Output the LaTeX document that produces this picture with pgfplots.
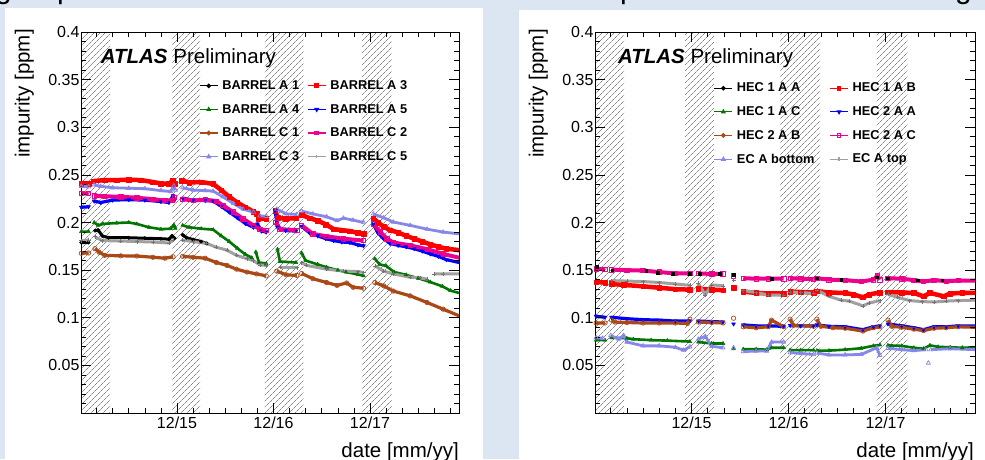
\documentclass[border=0pt]{standalone}
\usepackage{fontspec}
\setmainfont{Liberation Sans}
\usepackage{pgfplots}
\pgfplotsset{compat=1.18}
\usepackage{pgfplotstable}
\usetikzlibrary{patterns.meta}
\definecolor{bgblue}{RGB}{220,230,242}
\definecolor{rgreen}{RGB}{0,118,0}
\definecolor{rbrown}{RGB}{170,72,22}
\definecolor{rlav}{RGB}{135,135,235}
\definecolor{rgray}{RGB}{160,160,160}

% ---------------- LEFT PANEL DATA (x = months since Dec 2015) ----------------
\pgfplotstableread{
x y
-11.9 0.179
-11.0 0.179
-10.6 nan
-10.2 0.1915
-9.8 0.192
-9.3 0.186
-8.5 0.184
-6.0 0.184
-4.0 0.1835
-2.0 0.183
-1.0 0.1825
-0.6 0.186
-0.3 0.1835
0.2 nan
0.7 0.187
1.2 0.184
2.0 0.182
3.0 0.180
3.7 0.178
}\LAone
\pgfplotstableread{
x y
-11.9 0.241
-10.9 0.241
-10.65 nan
-10.4 0.2435
-9.0 0.2445
-7.5 0.2445
-6.0 0.245
-4.5 0.2445
-3.0 0.2425
-2.0 0.241
-1.0 0.2405
-0.5 0.2445
-0.3 0.2405
0.2 nan
0.6 0.244
1.5 0.242
3.0 0.2425
4.5 0.2405
5.5 0.234
6.5 0.227
7.5 0.221
8.5 0.216
9.5 0.2115
9.9 0.2095
10.0 nan
10.1 0.204
11.1 0.204
11.6 nan
12.2 0.2125
12.5 0.205
13.5 0.204
14.8 0.2045
15.1 nan
15.5 0.208
16.5 0.2045
17.5 0.202
18.5 0.198
19.5 0.193
20.5 0.192
21.5 0.191
22.5 0.189
23.2 0.188
23.8 nan
24.4 0.2045
25.0 0.200
25.7 0.1955
26.5 0.192
27.5 0.1895
28.5 0.186
29.5 0.183
30.5 0.180
31.5 0.177
32.5 0.1745
33.5 0.1725
35.1 0.171
}\LAthree
\pgfplotstableread{
x y
-11.9 0.1905
-11.0 0.1905
-10.65 nan
-10.3 0.200
-9.8 0.197
-9.2 0.1985
-7.5 0.1995
-6.0 0.200
-5.0 0.1985
-3.5 0.195
-2.0 0.193
-0.8 0.1935
-0.4 0.1975
-0.2 0.194
0.2 nan
0.7 0.197
1.5 0.195
3.0 0.1935
4.5 0.1925
5.5 0.186
6.5 0.180
7.5 0.173
8.5 0.1665
9.3 0.163
9.55 nan
9.8 0.169
10.2 0.158
11.1 0.157
11.8 nan
12.5 0.172
12.8 0.159
14.8 0.158
15.1 nan
15.5 0.168
16.0 0.160
17.5 0.156
18.6 0.153
20.0 0.150
21.0 0.148
22.5 0.1455
23.2 0.144
23.9 nan
24.6 0.162
25.2 0.156
26.0 0.1545
27.0 0.148
28.5 0.145
30.0 0.1415
31.5 0.1375
33.0 0.133
34.0 0.1285
35.1 0.126
}\LAfour
\pgfplotstableread{
x y
-11.9 0.216
-11.0 0.2165
-10.65 nan
-10.3 0.2225
-9.5 0.221
-8.0 0.2235
-6.0 0.224
-4.0 0.2235
-2.0 0.222
-1.0 0.221
-0.5 0.228
-0.3 0.2235
0.2 nan
0.7 0.2255
2.0 0.2235
3.5 0.223
4.5 0.2225
5.5 0.217
6.5 0.211
7.5 0.205
8.5 0.199
9.5 0.195
10.0 0.1985
10.5 0.191
11.1 0.190
11.7 nan
12.2 0.2125
12.5 0.195
13.5 0.1915
14.8 0.191
15.1 nan
15.5 0.196
16.5 0.189
17.5 0.186
18.5 0.183
19.5 0.181
20.5 0.1795
21.5 0.179
22.5 0.1765
23.2 0.1755
23.8 nan
24.4 0.1985
25.0 0.189
25.7 0.183
26.5 0.178
27.5 0.176
28.5 0.1745
29.5 0.1725
30.5 0.170
31.5 0.167
32.5 0.1645
33.5 0.161
35.1 0.158
}\LAfive
\pgfplotstableread{
x y
-11.9 0.1677
-11.0 0.168
-10.6 nan
-10.2 0.1725
-9.7 0.169
-9.0 0.1655
-7.0 0.165
-5.0 0.1648
-3.0 0.1635
-1.5 0.1625
-0.5 0.164
0.2 nan
0.7 0.1645
2.0 0.1635
3.5 0.1625
4.9 0.158
6.2 0.155
7.4 0.151
8.7 0.148
9.9 0.146
11.1 0.144
11.8 nan
12.4 0.149
13.6 0.145
14.9 0.1445
15.2 nan
15.5 0.1465
16.9 0.141
18.6 0.137
19.9 0.134
21.1 0.1365
21.9 0.132
23.2 0.131
23.9 nan
24.6 0.137
25.7 0.1335
26.9 0.128
29.0 0.123
31.1 0.116
33.1 0.109
35.1 0.102
}\LCone
\pgfplotstableread{
x y
-11.9 0.2305
-11.0 0.2305
-10.65 nan
-10.3 0.228
-9.0 0.2275
-7.0 0.227
-5.0 0.226
-3.0 0.2245
-1.5 0.223
-0.6 0.2235
-0.3 0.2265
0.2 nan
0.7 0.2245
2.0 0.223
3.5 0.224
4.9 0.2225
5.7 0.218
7.0 0.211
8.2 0.204
9.5 0.197
10.3 0.193
11.1 0.1915
11.7 nan
12.3 0.200
12.8 0.193
14.9 0.192
15.2 nan
15.5 0.197
16.9 0.188
18.6 0.1855
20.7 0.183
23.2 0.181
23.8 nan
24.4 0.1985
25.3 0.190
26.1 0.183
26.9 0.179
29.0 0.176
31.1 0.172
33.1 0.167
35.1 0.163
}\LCtwo
\pgfplotstableread{
x y
-11.9 0.238
-11.0 0.2375
-10.65 nan
-10.3 0.2395
-9.5 0.238
-8.0 0.2365
-6.0 0.236
-4.0 0.2355
-2.0 0.2335
-0.8 0.2325
-0.4 0.2385
-0.2 0.234
0.2 nan
0.7 0.2365
2.0 0.234
3.5 0.2335
4.5 0.233
5.7 0.227
7.0 0.220
8.2 0.214
9.5 0.211
10.3 0.207
11.1 0.2065
11.8 nan
12.4 0.214
13.6 0.209
14.9 0.2085
15.2 nan
15.5 0.212
16.9 0.209
18.6 0.206
19.9 0.202
20.7 0.2045
21.9 0.2025
23.2 0.200
23.8 nan
24.4 0.209
25.7 0.205
26.9 0.2005
29.0 0.197
31.1 0.193
33.1 0.190
35.1 0.188
}\LCthree
\pgfplotstableread{
x y
-11.9 0.181
-11.0 0.1815
-10.6 nan
-10.2 0.185
-9.3 0.181
-7.0 0.1805
-5.0 0.180
-3.0 0.1795
-1.0 0.1785
-0.5 0.1815
0.2 nan
0.7 0.1815
2.0 0.180
3.7 0.178
4.9 0.174
6.2 0.171
7.4 0.1655
8.7 0.162
9.5 0.160
10.3 0.1555
11.1 0.155
11.9 nan
12.8 0.153
14.9 0.1525
15.2 nan
15.5 0.158
16.1 0.155
18.6 0.151
20.7 0.149
22.5 0.1485
23.2 0.1475
23.9 nan
24.6 0.1545
25.7 0.149
26.9 0.146
29.0 0.1425
30.2 0.142
31.1 0.1405
31.5 nan
32.0 0.146
33.1 0.146
35.1 0.146
}\LCfive

% ---------------- RIGHT PANEL DATA ----------------
\pgfplotstableread{
x y
-11.7 0.1535
-9.8 0.150
-5.6 0.1495
-4.2 0.1475
-2.3 0.1465
-0.2 0.146
1.0 0.1465
3.5 0.1465
5.2 0.1455
9.9 0.141
15.5 0.1415
18.5 0.140
22.9 0.1425
24.3 0.1415
28.0 0.1395
31.0 0.1395
}\RHaa
\pgfplotstableread{
x y
-11.8 0.1375
-10.7 0.137
-10.3 nan
-9.9 0.1355
-8.4 0.1345
-6.0 0.133
-4.0 0.1315
-2.0 0.130
-0.2 0.1295
0.3 nan
0.85 0.1305
2.5 0.1295
3.9 0.129
4.5 nan
5.2 0.1315
5.8 nan
6.4 0.1275
8.0 0.126
9.5 0.1255
11.4 0.1255
11.8 nan
12.2 0.1275
13.5 0.127
15.1 0.1265
15.3 nan
15.5 0.128
17.0 0.1265
19.0 0.126
20.0 0.1245
21.2 0.1215
22.0 0.1245
23.3 0.1265
23.8 nan
24.3 0.127
26.0 0.1265
27.5 0.126
28.7 0.1225
29.5 0.126
31.2 0.1225
32.0 0.1255
33.5 0.126
35.1 0.126
}\RHab
\pgfplotstableread{
x y
-11.8 0.0765
-10.7 0.0765
-10.3 nan
-9.9 0.079
-8.0 0.0785
-7.2 0.0775
-5.0 0.0765
-3.0 0.076
-0.2 0.075
0.3 nan
0.85 0.0745
2.5 0.073
3.9 0.073
4.5 nan
5.2 0.0675
5.8 nan
6.4 0.067
8.0 0.067
9.3 0.0665
9.9 0.0685
11.4 0.0685
11.8 nan
12.2 0.066
13.5 0.066
15.1 0.066
15.3 nan
15.5 0.0655
17.0 0.0655
19.0 0.0665
21.0 0.068
22.5 0.0705
23.3 0.0715
23.8 nan
24.3 0.071
26.0 0.0705
27.5 0.0685
28.7 0.0675
29.5 0.071
30.5 0.0695
32.0 0.069
33.5 0.0685
35.1 0.069
}\RHac
\pgfplotstableread{
x y
-11.8 0.1015
-10.7 0.1005
-10.3 nan
-9.9 0.1005
-8.0 0.099
-6.0 0.098
-4.0 0.0975
-2.0 0.0965
-0.2 0.0965
0.3 nan
0.85 0.0965
2.5 0.096
3.9 0.0955
4.5 nan
5.2 0.0935
5.8 nan
6.4 0.0925
8.0 0.0915
9.5 0.0915
11.4 0.091
11.8 nan
12.2 0.092
13.5 0.0915
15.1 0.0915
15.3 nan
15.5 0.0925
17.0 0.091
19.0 0.0905
21.2 0.0875
22.5 0.0905
23.3 0.0915
23.8 nan
24.3 0.0935
26.0 0.0915
27.5 0.0895
28.7 0.0875
30.0 0.0905
31.5 0.0905
33.0 0.0915
35.1 0.0915
}\RHba
\pgfplotstableread{
x y
-11.8 0.0945
-10.7 0.0945
-10.3 nan
-9.9 0.0975
-9.5 0.0955
-8.0 0.095
-6.0 0.0945
-4.0 0.0945
-2.0 0.0945
-0.5 0.094
-0.2 0.0985
0.3 nan
0.85 0.0955
2.5 0.095
3.9 0.0945
4.5 nan
5.2 0.0995
5.8 nan
6.4 0.0905
8.0 0.0895
9.5 0.0905
9.9 0.0975
11.4 0.0905
11.8 nan
12.2 0.0985
12.6 0.092
15.1 0.091
15.3 nan
15.5 0.0985
16.0 0.091
17.5 0.0895
19.0 0.089
21.2 0.086
22.5 0.0895
23.3 0.0905
23.8 nan
24.3 0.0975
24.8 0.091
26.0 0.090
27.5 0.088
28.7 0.0865
30.0 0.089
31.5 0.0895
33.0 0.0905
35.1 0.090
}\RHbb
\pgfplotstableread{
x y
-11.8 0.1515
-10.7 0.151
-10.3 nan
-9.9 0.1505
-8.0 0.150
-6.0 0.1495
-4.0 0.148
-2.0 0.1465
-0.2 0.1465
0.3 nan
0.85 0.1465
2.5 0.146
3.9 0.146
4.5 nan
5.2 0.144
5.8 nan
6.4 0.1415
8.0 0.141
9.5 0.141
11.4 0.141
11.8 nan
12.2 0.1415
13.5 0.141
15.1 0.1405
15.3 nan
15.5 0.1415
17.0 0.140
19.0 0.1395
21.0 0.138
22.5 0.140
23.0 0.144
23.3 0.140
23.8 nan
24.3 0.1415
26.0 0.141
27.5 0.1395
28.7 0.138
30.0 0.1395
31.5 0.1385
33.0 0.139
35.1 0.139
}\RHbc
\pgfplotstableread{
x y
-11.8 0.079
-11.0 0.0785
-10.5 nan
-10.0 0.0815
-9.0 0.0775
-8.4 0.0815
-8.0 0.0745
-6.0 0.0705
-4.0 0.0705
-2.0 0.069
-1.0 0.066
-0.2 0.0695
0.3 nan
0.85 0.0775
1.7 0.0805
2.5 0.070
3.9 0.0685
4.5 nan
5.2 0.0685
5.8 nan
6.4 0.0645
8.0 0.065
9.3 0.065
9.9 0.0745
11.4 0.0745
11.8 nan
12.2 0.0635
13.5 0.0625
15.1 0.0615
15.3 nan
15.5 0.063
17.0 0.061
19.0 0.061
21.0 0.0615
22.9 0.0685
23.3 0.0605
23.8 nan
24.3 0.068
26.0 0.0665
27.5 0.0655
29.0 0.0665
29.15 nan
29.3 0.0525
29.45 nan
29.6 0.0665
32.0 0.0675
35.1 0.0665
}\REbot
\pgfplotstableread{
x y
-9.9 0.139
-8.0 0.1385
-6.0 0.138
-4.0 0.137
-2.0 0.1355
-0.2 0.134
0.3 nan
0.85 0.136
1.7 0.124
2.5 0.1345
3.9 0.1335
4.5 nan
5.2 0.1395
5.8 nan
6.4 0.1285
8.0 0.1265
9.5 0.124
11.4 0.1235
11.8 nan
12.2 0.127
13.5 0.1265
15.1 0.1255
15.3 nan
15.5 0.129
17.0 0.1225
18.5 0.1185
19.5 0.1175
21.2 0.1125
22.0 0.1155
23.3 0.118
23.8 nan
24.3 0.1245
25.5 0.1215
27.0 0.118
28.5 0.117
30.0 0.1165
31.5 0.1175
33.0 0.118
35.1 0.1185
}\REtop

\pgfplotsset{
 atlas/.style={
  scale only axis, width=378pt, height=381pt,
  xmin=-11.94, xmax=35.07, ymin=0, ymax=0.4,
  xtick={0,12,24}, xticklabels={12/15,12/16,12/17},
  minor xtick={-10,-8,...,34},
  ytick={0,0.05,0.1,0.15,0.2,0.25,0.3,0.35,0.4},
  yticklabels={,0.05,0.1,0.15,0.2,0.25,0.3,0.35,0.4},
  minor y tick num=4,
  tick align=inside, xtick pos=both, ytick pos=both,
  major tick length=10pt, minor tick length=5pt,
  tick style={black, line width=0.6pt},
  axis line style={black, line width=0.8pt},
  tick label style={font=\fontsize{16}{18}\selectfont},
  yticklabel style={xshift=2pt},
  unbounded coords=jump,
  axis on top,
  legend columns=2,
  legend cell align=left,
  legend style={draw=none, fill=none, inner sep=0pt, anchor=north west,
    font=\bfseries\fontsize{12.8}{14}\selectfont, row sep=9.2pt,
    /tikz/every odd column/.append style={column sep=2pt}},
  legend image code/.code={\draw[mark repeat=2,mark phase=2] plot coordinates {(0pt,0pt)(9pt,0pt)(18pt,0pt)};},
 },
 hatch/.style={draw=none, forget plot, pattern={Lines[angle=45,distance=4pt,line width=0.4pt]}, pattern color=black!72},
 sblack/.style={black, line width=3pt, line join=round, mark=*, mark size=1.8pt, mark options={solid,line width=0.4pt}},
 sred/.style={red, line width=4.5pt, line join=round, mark=square*, mark size=2.3pt, mark options={solid,line width=0.4pt}},
 sgreen/.style={rgreen, line width=2.6pt, line join=round, mark=triangle*, mark size=2.2pt, mark options={solid,line width=0.4pt}},
 sblue/.style={blue, line width=3.2pt, line join=round, mark=triangle*, mark size=2.3pt, mark options={solid,rotate=180,line width=0.4pt}},
 sbrown/.style={rbrown, line width=3.2pt, line join=round, mark=o, mark size=2.2pt, mark options={solid, fill=white, line width=0.7pt}},
 smag/.style={magenta, line width=4pt, line join=round, mark=square, mark size=2.2pt, mark options={solid, fill=white, line width=0.7pt}},
 slav/.style={rlav, line width=2.8pt, line join=round, mark=triangle, mark size=2.4pt, mark options={solid, fill=white, line width=0.7pt}},
 sgray/.style={rgray, line width=3pt, line join=round, mark=+, mark size=2pt, mark options={solid, line width=0.6pt, black!55}},
}

\begin{document}
\begin{tikzpicture}
\useasboundingbox (0pt,0pt) rectangle (985pt,459pt);
\fill[bgblue] (0pt,0pt) rectangle (985pt,459pt);
\fill[white] (5pt,0pt) rectangle (483pt,451pt);
\fill[white] (519pt,0pt) rectangle (985pt,449pt);
\begin{scope}
\clip (0pt,0pt) rectangle (985pt,459pt);
\node[anchor=base west, inner sep=0, font=\fontsize{30}{30}\selectfont] at (-5pt,460.5pt) {g};
\node[anchor=base west, inner sep=0, font=\fontsize{30}{30}\selectfont] at (57pt,460.5pt) {p};
\node[anchor=base west, inner sep=0, font=\fontsize{30}{30}\selectfont] at (620pt,460.5pt) {p};
\node[anchor=base west, inner sep=0, font=\fontsize{30}{30}\selectfont] at (955pt,460.5pt) {g};
\end{scope}

% ================= LEFT =================
\begin{axis}[atlas, at={(81pt,46pt)}, anchor=south west,
  legend style={at={(0.312,0.878)}, /tikz/every even column/.append style={column sep=6pt}}]
\addplot[hatch] coordinates {(-12,0) (-8.33,0) (-8.33,0.4) (-12,0.4)} -- cycle;
\addplot[hatch] coordinates {(-0.62,0) (2.86,0) (2.86,0.4) (-0.62,0.4)} -- cycle;
\addplot[hatch] coordinates {(10.94,0) (15.7,0) (15.7,0.4) (10.94,0.4)} -- cycle;
\addplot[hatch] coordinates {(23.0,0) (26.7,0) (26.7,0.4) (23.0,0.4)} -- cycle;

\addplot[sblack, forget plot] table {\LAone};
\addplot[sred, forget plot] table {\LAthree};
\addplot[sgreen, forget plot] table {\LAfour};
\addplot[sblue, forget plot] table {\LAfive};
\addplot[sbrown, forget plot] table {\LCone};
\addplot[smag, forget plot] table {\LCtwo};
\addplot[slav, forget plot] table {\LCthree};
\addplot[sgray, forget plot] table {\LCfive};

\addlegendimage{black, line width=1.2pt, mark=*, mark size=1.6pt}
\addlegendentry{BARREL A 1}
\addlegendimage{red, line width=1.2pt, mark=square*, mark size=1.8pt}
\addlegendentry{BARREL A 3}
\addlegendimage{rgreen, line width=1.2pt, mark=triangle*, mark size=1.8pt}
\addlegendentry{BARREL A 4}
\addlegendimage{blue, line width=1.2pt, mark=triangle*, mark size=1.8pt, mark options={rotate=180}}
\addlegendentry{BARREL A 5}
\addlegendimage{rbrown, line width=1.2pt, mark=o, mark size=1.8pt, mark options={fill=white}}
\addlegendentry{BARREL C 1}
\addlegendimage{magenta, line width=1.2pt, mark=square, mark size=1.8pt, mark options={fill=white}}
\addlegendentry{BARREL C 2}
\addlegendimage{rlav, line width=1.2pt, mark=triangle, mark size=2pt, mark options={fill=white}}
\addlegendentry{BARREL C 3}
\addlegendimage{rgray, line width=1.2pt, mark=+, mark size=1.8pt}
\addlegendentry{BARREL C 5}

\node[anchor=base west, inner sep=0, font=\fontsize{20.5}{22}\selectfont] at (rel axis cs:0.052,0.918) {\textbf{\textit{ATLAS}} Preliminary};
\end{axis}

% ================= RIGHT =================
\begin{axis}[atlas, at={(595pt,46pt)}, anchor=south west, width=380pt,
  legend style={at={(0.312,0.872)}, /tikz/every even column/.append style={column sep=13pt}}]
\addplot[hatch] coordinates {(-12,0) (-8.35,0) (-8.35,0.4) (-12,0.4)} -- cycle;
\addplot[hatch] coordinates {(-0.8,0) (2.78,0) (2.78,0.4) (-0.8,0.4)} -- cycle;
\addplot[hatch] coordinates {(10.95,0) (15.9,0) (15.9,0.4) (10.95,0.4)} -- cycle;
\addplot[hatch] coordinates {(22.9,0) (26.7,0) (26.7,0.4) (22.9,0.4)} -- cycle;

\addplot[sred, forget plot] table {\RHab};
\addplot[sgreen, forget plot] table {\RHac};
\addplot[sblue, forget plot] table {\RHba};
\addplot[sbrown, forget plot] table {\RHbb};
\addplot[smag, forget plot] table {\RHbc};
\addplot[only marks, black, mark=square*, mark size=1.3pt, forget plot] table {\RHaa};
\addplot[slav, forget plot] table {\REbot};
\addplot[sgray, forget plot] table {\REtop};

\addlegendimage{black, line width=1.2pt, mark=*, mark size=1.6pt}
\addlegendentry{HEC 1 A A}
\addlegendimage{red, line width=1.2pt, mark=square*, mark size=1.8pt}
\addlegendentry{HEC 1 A B}
\addlegendimage{rgreen, line width=1.2pt, mark=triangle*, mark size=1.8pt}
\addlegendentry{HEC 1 A C}
\addlegendimage{blue, line width=1.2pt, mark=triangle*, mark size=1.8pt, mark options={rotate=180}}
\addlegendentry{HEC 2 A A}
\addlegendimage{rbrown, line width=1.2pt, mark=o, mark size=1.8pt, mark options={fill=white}}
\addlegendentry{HEC 2 A B}
\addlegendimage{magenta, line width=1.2pt, mark=square, mark size=1.8pt, mark options={fill=white}}
\addlegendentry{HEC 2 A C}
\addlegendimage{rlav, line width=1.2pt, mark=triangle, mark size=2pt, mark options={fill=white}}
\addlegendentry{EC A bottom}
\addlegendimage{rgray, line width=1.2pt, mark=+, mark size=1.8pt}
\addlegendentry{EC A top}

\node[anchor=base west, inner sep=0, font=\fontsize{20.5}{22}\selectfont] at (rel axis cs:0.06,0.918) {\textbf{\textit{ATLAS}} Preliminary};
\end{axis}

% axis titles
\node[rotate=90, anchor=south east, inner sep=0, font=\fontsize{20.5}{22}\selectfont] at (34pt,430pt) {impurity [ppm]};
\node[rotate=90, anchor=south east, inner sep=0, font=\fontsize{20.5}{22}\selectfont] at (548pt,430pt) {impurity [ppm]};
\node[anchor=base east, inner sep=0, font=\fontsize{20.5}{22}\selectfont] at (459pt,1.3pt) {date [mm/yy]};
\node[anchor=base east, inner sep=0, font=\fontsize{20.5}{22}\selectfont] at (974pt,1.3pt) {date [mm/yy]};
\end{tikzpicture}
\end{document}
